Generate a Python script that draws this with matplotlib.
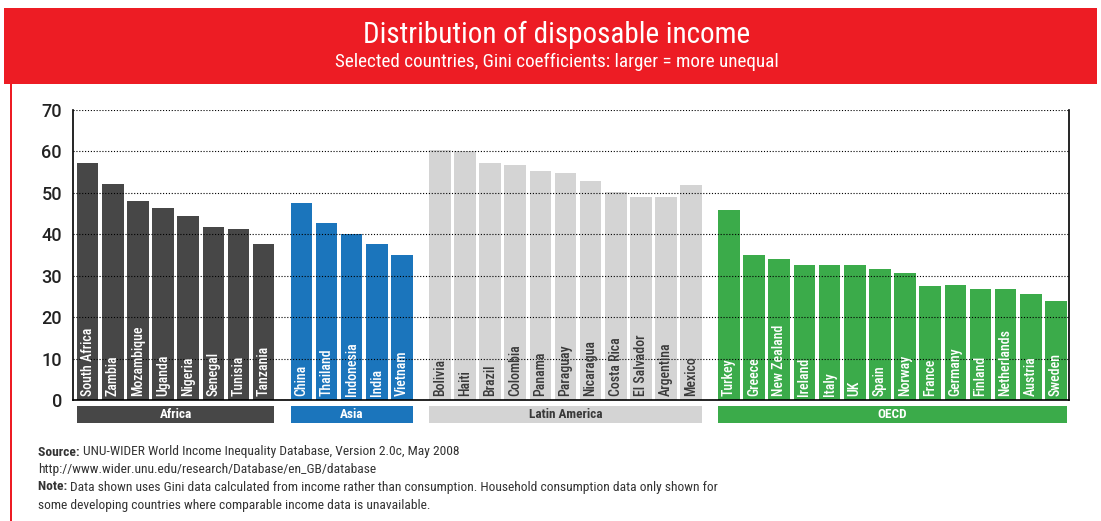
import matplotlib
matplotlib.use("Agg")
import matplotlib.pyplot as plt
from matplotlib.patches import Rectangle
from matplotlib.transforms import blended_transform_factory

# Gini coefficients by region
africa = ["South Africa", "Zambia", "Mozambique", "Uganda", "Nigeria", "Senegal", "Tunisia", "Tanzania"]
africa_gini = [57.1, 52.2, 48.1, 46.3, 44.5, 41.8, 41.2, 37.7]

asia = ["China", "Thailand", "Indonesia", "India", "Vietnam"]
asia_gini = [47.5, 42.7, 40.0, 37.7, 35.0]

latam = ["Bolivia", "Haiti", "Brazil", "Colombia", "Panama", "Paraguay", "Nicaragua",
         "Costa Rica", "El Salvador", "Argentina", "Mexico"]
latam_gini = [60.3, 60.1, 57.1, 56.8, 55.3, 54.7, 52.9, 50.1, 49.0, 49.0, 52.0]

oecd = ["Turkey", "Greece", "New Zealand", "Ireland", "Italy", "UK", "Spain", "Norway",
        "France", "Germany", "Finland", "Netherlands", "Austria", "Sweden"]
oecd_gini = [45.8, 35.0, 34.0, 32.6, 32.6, 32.6, 31.7, 30.7, 27.4, 27.8, 26.9, 26.9, 25.7, 23.8]

groups = ["Africa", "Asia", "Latin America", "OECD"]
yticks = [0, 10, 20, 30, 40, 50, 60, 70]

plt.rcParams["font.family"] = ["Roboto Condensed", "DejaVu Sans"]

RED = "#ed1c24"
styles = [("#474747", "white"), ("#1b75bc", "white"), ("#d4d4d4", "#3a3a3a"), ("#3bab4a", "white")]

W, H = 1101, 521
fig = plt.figure(figsize=(W / 100, H / 100), dpi=100)
fig.patch.set_facecolor("white")

# header banner and left rule
fig.patches.append(Rectangle((4 / W, 1 - 84 / H), 1093 / W, 76 / H, transform=fig.transFigure,
                             facecolor=RED, edgecolor="none"))
fig.patches.append(Rectangle((10 / W, 0), 2 / W, 1 - 84 / H, transform=fig.transFigure,
                             facecolor=RED, edgecolor="none"))
fig.text(557 / W, 1 - 35 / H, "Distribution of disposable income", color="white",
         fontsize=21, ha="center", va="center")
fig.text(557 / W, 1 - 62 / H, "Selected countries, Gini coefficients: larger = more unequal",
         color="white", fontsize=13.8, ha="center", va="center")

ax = fig.add_axes([73 / W, 1 - 400 / H, 996 / W, 290 / H])

data = [(africa, africa_gini), (asia, asia_gini), (latam, latam_gini), (oecd, oecd_gini)]
width = 0.86
trans = blended_transform_factory(ax.transData, ax.transAxes)
pos = 0.0
for (labels, vals), grp, (fc, tc) in zip(data, groups, styles):
    xs = [pos + i for i in range(len(labels))]
    ax.bar(xs, vals, width=width, color=fc, zorder=1)
    for x, lab in zip(xs, labels):
        ax.text(x, 1.0, lab, rotation=90, ha="center", va="bottom", color=tc,
                fontsize=10, fontweight="medium", zorder=3)
    x0 = xs[0] - width / 2
    x1 = xs[-1] + width / 2
    ax.add_patch(Rectangle((x0, -0.081), x1 - x0, 0.062, transform=trans, facecolor=fc,
                           edgecolor="none", clip_on=False))
    ax.text((x0 + x1) / 2, -0.05, grp, transform=trans, ha="center", va="center",
            color=tc, fontsize=9.5, fontweight="bold")
    pos = xs[-1] + 1.5

ax.set_xlim(-0.58, pos - 1.5 + 0.52)
ax.set_ylim(0, 70)
ax.set_yticks(yticks)
ax.tick_params(axis="y", length=0, pad=8, labelsize=13, labelcolor="#222222")
for t in ax.get_yticklabels():
    t.set_family(["Roboto", "DejaVu Sans"])
    t.set_fontweight("medium")
ax.set_xticks([])
ax.yaxis.grid(True, linestyle=(0, (1, 1.6)), color="black", linewidth=0.8, zorder=2)
ax.set_axisbelow(False)
for s in ["left", "right", "bottom"]:
    ax.spines[s].set_color("black")
    ax.spines[s].set_linewidth(1.2)
ax.spines["top"].set_visible(False)

# footer notes
fs = 9.7
foot = "#333333"
fig.canvas.draw()
r = fig.canvas.get_renderer()
lines = [("Source: ", "UNU-WIDER World Income Inequality Database, Version 2.0c, May 2008", 452),
         ("", "http://www.wider.unu.edu/research/Database/en_GB/database", 469),
         ("Note: ", "Data shown uses Gini data calculated from income rather than consumption. "
                    "Household consumption data only shown for", 487),
         ("", "some developing countries where comparable income data is unavailable.", 505)]
for bold, rest, y in lines:
    x = 38 / W
    if bold:
        t = fig.text(x, 1 - y / H, bold, fontsize=fs, fontweight="bold", color=foot, va="center")
        x += t.get_window_extent(r).width / W
    fig.text(x, 1 - y / H, rest, fontsize=fs, color=foot, va="center")

fig.savefig("out.png", dpi=100)
